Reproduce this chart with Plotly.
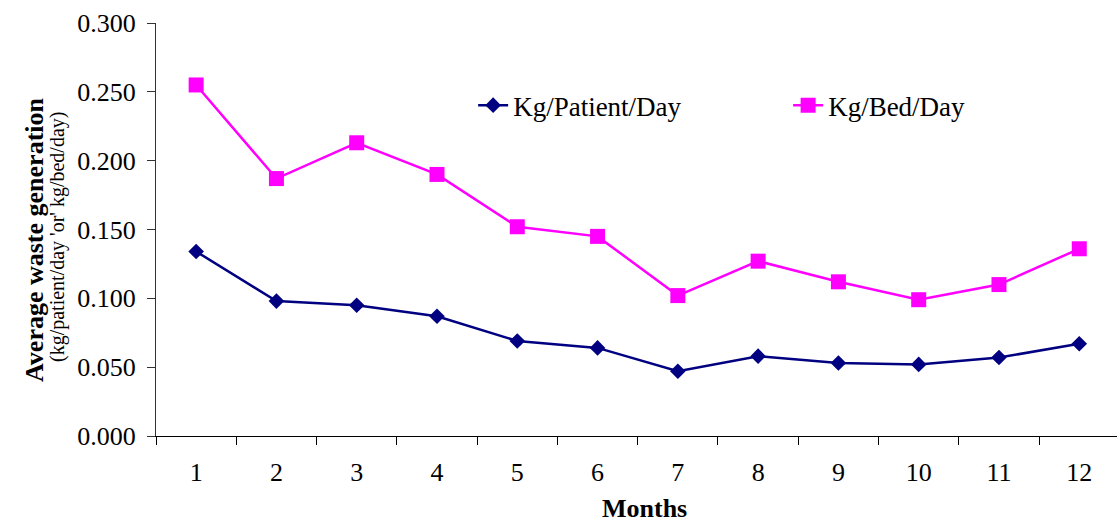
import plotly.graph_objects as go

# Monthly average waste generation
months = ["1", "2", "3", "4", "5", "6", "7", "8", "9", "10", "11", "12"]
kg_patient_day = [0.134, 0.098, 0.095, 0.087, 0.069, 0.064, 0.047, 0.058, 0.053, 0.052, 0.057, 0.067]
kg_bed_day = [0.255, 0.187, 0.213, 0.190, 0.152, 0.145, 0.102, 0.127, 0.112, 0.099, 0.110, 0.136]
y_ticks = [0.0, 0.05, 0.10, 0.15, 0.20, 0.25, 0.30]

FONT = "Liberation Serif"

fig = go.Figure()
fig.add_trace(go.Scatter(
    x=months, y=kg_patient_day, name="Kg/Patient/Day",
    mode="lines+markers",
    line=dict(color="#000080", width=2.5),
    marker=dict(symbol="diamond", size=12, color="#000080"),
))
fig.add_trace(go.Scatter(
    x=months, y=kg_bed_day, name="Kg/Bed/Day",
    mode="lines+markers",
    line=dict(color="#FF00FF", width=2.5),
    marker=dict(symbol="square", size=15, color="#FF00FF"),
))

fig.update_layout(
    width=1117, height=522,
    margin=dict(l=156, r=0, t=23, b=86),
    paper_bgcolor="white", plot_bgcolor="white",
    font=dict(family=FONT, size=27, color="black"),
    legend=dict(
        orientation="h", x=0.33, y=0.80, xanchor="left", yanchor="middle",
        font=dict(family=FONT, size=27, color="black"),
        entrywidth=270, entrywidthmode="pixels",
        bgcolor="rgba(0,0,0,0)",
    ),
    xaxis=dict(
        type="category", range=[-0.5, 11.47],
        showline=True, linecolor="black", linewidth=1,
        ticks="outside", ticklen=8, tickcolor="black", tickson="boundaries",
        showgrid=False, zeroline=False, ticklabelstandoff=13,
        tickfont=dict(family=FONT, size=26),
    ),
    yaxis=dict(
        range=[0, 0.3], tickvals=y_ticks, tickformat=".3f",
        showline=True, linecolor="#333333", linewidth=1,
        ticks="outside", ticklen=8, tickcolor="#333333",
        showgrid=False, zeroline=False, ticklabelstandoff=6,
        tickfont=dict(family=FONT, size=26),
    ),
    annotations=[
        dict(text="<b>Months</b>", xref="paper", yref="paper",
             x=(644 - 156) / 961, y=(436 - 508) / 413, showarrow=False,
             xanchor="center", yanchor="middle",
             font=dict(family=FONT, size=26)),
        dict(text="<b>Average waste generation</b>", xref="paper", yref="paper",
             x=(35 - 156) / 961, y=(436 - 240) / 413, showarrow=False,
             textangle=-90, xanchor="center", yanchor="middle",
             font=dict(family=FONT, size=26)),
        dict(text="(kg/patient/day 'or' kg/bed/day)", xref="paper", yref="paper",
             x=(57 - 156) / 961, y=(436 - 237) / 413, showarrow=False,
             textangle=-90, xanchor="center", yanchor="middle",
             font=dict(family=FONT, size=20)),
    ],
)

fig.write_html("out.html")
